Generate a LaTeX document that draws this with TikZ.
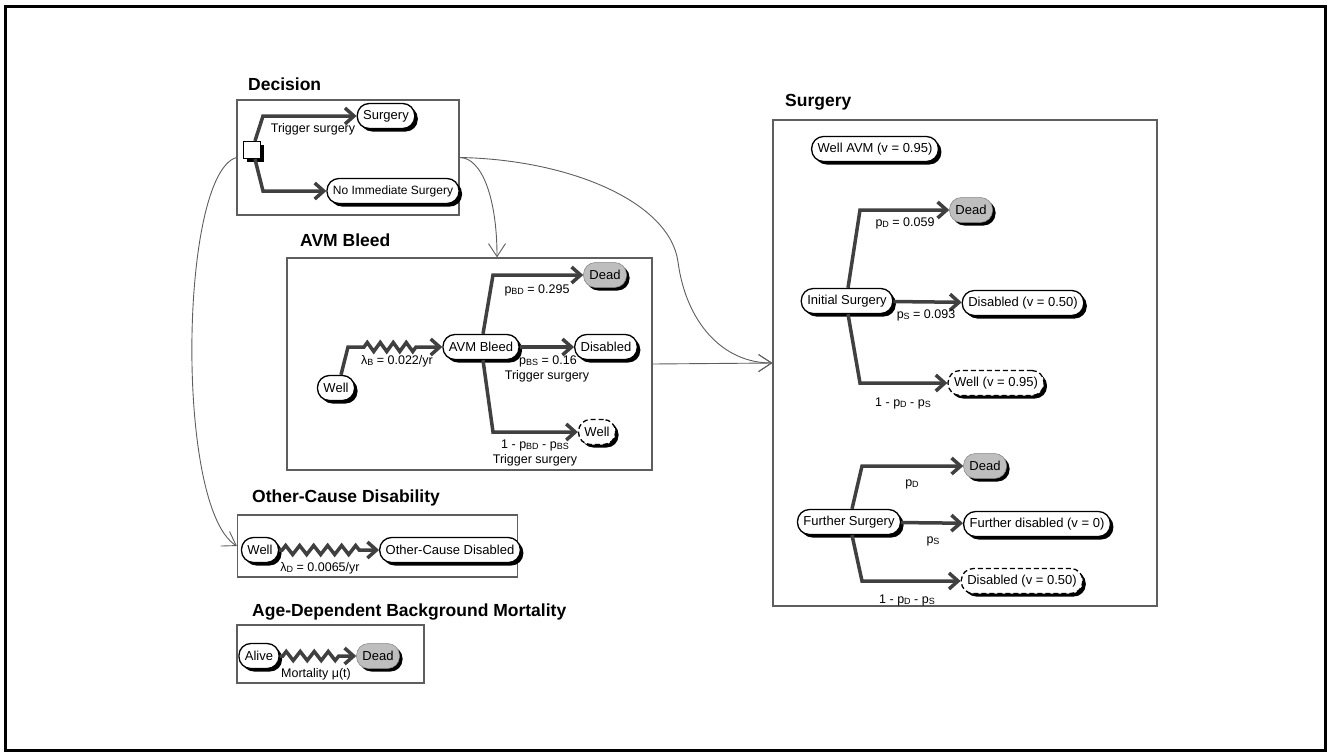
\documentclass[tikz,border=0pt]{standalone}
\usepackage{fontspec}
\setmainfont{Liberation Sans}
\usetikzlibrary{arrows.meta, shadows, decorations.pathmorphing}

\definecolor{branchgray}{HTML}{404040}
\definecolor{panelgray}{HTML}{5E5E5E}
\definecolor{deadfill}{HTML}{BEBEBE}
\newcommand{\lowsc}[1]{\raisebox{-1.5pt}{\fontsize{9}{9}\selectfont #1}}

\begin{document}
\begin{tikzpicture}[x=1pt, y=-1pt,
    state/.style={draw=black, line width=1.3pt, fill=white, rounded corners=12pt,
        minimum height=25pt, inner xsep=6pt, inner ysep=2pt,
        font=\fontsize{13}{15}\selectfont,
        drop shadow={shadow xshift=3pt, shadow yshift=-3pt, fill=black, opacity=1}},
    deadstate/.style={state, draw=gray, line width=0.5pt, fill=deadfill},
    tunnel/.style={state, dash pattern=on 5pt off 3pt},
    decsq/.style={draw=black, line width=1.2pt, fill=white, minimum size=17pt, inner sep=0pt,
        drop shadow={shadow xshift=3pt, shadow yshift=-3pt, fill=black, opacity=1}},
    panel/.style={draw=panelgray, line width=1.2pt, inner sep=0pt},
    title/.style={anchor=west, inner sep=0pt, font=\fontsize{17.5}{20}\selectfont\bfseries},
    lbl/.style={inner sep=1pt, font=\fontsize{12.5}{14}\selectfont},
    branch/.style={draw=branchgray, line width=3.5pt, -{Straight Barb[length=9pt,width=16pt]}},
    jump/.style={branch, decorate, decoration={zigzag, segment length=14pt, amplitude=4.5pt,
        pre length=3pt, post length=16pt}},
    link/.style={draw=panelgray, line width=0.9pt, -{Straight Barb[length=13pt,width=17pt]}}]

    \useasboundingbox (0,0) rectangle (1329,755);
    \draw[line width=3pt] (5.5,6.5) rectangle (1325.5,750.5);

    % Decision
    \node[title] (tdec) at (248,84) {Decision};
    \node[panel, minimum width=222pt, minimum height=115pt] (decbox) at (348,157.5) {};
    \node[decsq] (dec) at (252,150) {};
    \node[state] (surg1) at (386,116) {Surgery};
    \node[state, font=\fontsize{12}{14}\selectfont] (noimm) at (393,191) {No Immediate Surgery};
    \draw[branch] ([xshift=3pt]dec.north) -- ([xshift=11pt]dec.north |- surg1) -- (surg1);
    \draw[branch] ([xshift=3pt]dec.south) -- ([xshift=11pt]dec.south |- noimm) -- (noimm);
    \node[lbl] (ltrig) at (313,129) {Trigger surgery};

    % AVM Bleed
    \node[title] (tbleed) at (300,240) {AVM Bleed};
    \node[panel, minimum width=365pt, minimum height=212pt] (bleedbox) at (469.5,364) {};
    \node[state] (wellA) at (336,388) {Well};
    \node[state] (avm) at (481,347) {AVM Bleed};
    \node[deadstate] (deadA) at (605,275) {Dead};
    \node[state] (disA) at (606,347) {Disabled};
    \node[tunnel] (wellB) at (597,432) {Well};
    \coordinate (cA) at (348,347);
    \draw[branch] ([xshift=5pt]wellA.north) -- (cA)
        decorate[decoration={zigzag, segment length=13pt, amplitude=4.5pt,
            pre length=16pt, post length=20pt}] {-- (avm)};
    \draw[branch] ([xshift=2pt]avm.north) -- ([xshift=12pt]avm.north |- deadA) -- (deadA);
    \draw[branch] (avm) -- (disA);
    \draw[branch] ([xshift=2pt]avm.south) -- ([xshift=12pt]avm.south |- wellB) -- (wellB);
    \node[lbl] (lrateB) at (397,361) {λ\lowsc{B} = 0.022/yr};
    \node[lbl] (lpbd) at (537,290) {p\lowsc{BD} = 0.295};
    \node[lbl] (lpbs) at (548,361) {p\lowsc{BS} = 0.16};
    \node[lbl] (ltrigA) at (547,376) {Trigger surgery};
    \node[lbl] (lrest) at (535,445) {1 - p\lowsc{BD} - p\lowsc{BS}};
    \node[lbl] (ltrigB) at (535,460) {Trigger surgery};

    % Other-Cause Disability
    \node[title] (tother) at (252,498) {Other-Cause Disability};
    \node[panel, minimum width=280pt, minimum height=62pt] (otherbox) at (377.5,546) {};
    \node[state] (wellO) at (260,550) {Well};
    \node[state] (ocd) at (450,550) {Other-Cause Disabled};
    \draw[jump] (wellO) -- (ocd);
    \node[lbl] (lrateD) at (320,568) {λ\lowsc{D} = 0.0065/yr};

    % Age-Dependent Background Mortality
    \node[title] (tage) at (252,612) {Age-Dependent Background Mortality};
    \node[panel, minimum width=187pt, minimum height=58pt] (agebox) at (330.5,654) {};
    \node[state] (alive) at (259,656) {Alive};
    \node[deadstate] (deadM) at (378,656) {Dead};
    \draw[jump] (alive) -- (deadM);
    \node[lbl] (lmort) at (316,674) {Mortality μ(t)};

    % Surgery
    \node[title] (tsurg) at (785,102) {Surgery};
    \node[panel, minimum width=384pt, minimum height=486pt] (surgbox) at (965,363) {};
    \node[state] (wellavm) at (875,149) {Well AVM (v = 0.95)};
    \node[state] (initS) at (847,301) {Initial Surgery};
    \node[deadstate] (deadS) at (971,210) {Dead};
    \node[state] (disS) at (1023,303) {Disabled (v = 0.50)};
    \node[tunnel] (wellS) at (996,383) {Well (v = 0.95)};
    \draw[branch] ([xshift=1pt]initS.north) -- ([xshift=13pt]initS.north |- deadS) -- (deadS);
    \draw[branch] (initS) -- (disS);
    \draw[branch] ([xshift=1pt]initS.south) -- ([xshift=13pt]initS.south |- wellS) -- (wellS);
    \node[lbl] (lpd) at (905,223) {p\lowsc{D} = 0.059};
    \node[lbl] (lps) at (926,315) {p\lowsc{S} = 0.093};
    \node[lbl] (lrestS) at (903,403) {1 - p\lowsc{D} - p\lowsc{S}};

    \node[state] (furS) at (849,522) {Further Surgery};
    \node[deadstate] (deadF) at (985,466) {Dead};
    \node[state] (furdis) at (1037,524) {Further disabled (v = 0)};
    \node[tunnel] (disF) at (1022,581) {Disabled (v = 0.50)};
    \draw[branch] ([xshift=3pt]furS.north) -- ([xshift=13pt]furS.north |- deadF) -- (deadF);
    \draw[branch] (furS) -- (furdis);
    \draw[branch] ([xshift=3pt]furS.south) -- ([xshift=13pt]furS.south |- disF) -- (disF);
    \node[lbl] (lpdF) at (912,484) {p\lowsc{D}};
    \node[lbl] (lpsF) at (933,541) {p\lowsc{S}};
    \node[lbl] (lrestF) at (907,600) {1 - p\lowsc{D} - p\lowsc{S}};

    % links between panels
    \coordinate (bend) at (678,262);
    \draw[link] (decbox.west) .. controls +(-57,17) and +(-62,-38) .. (otherbox.west);
    \draw[link] (decbox.east) .. controls +(22,0) and +(0,-60) .. ([xshift=27.5pt]bleedbox.north);
    \draw[link] (decbox.east) .. controls +(110,2) and +(-8,-60) .. (bend)
        .. controls +(8,60) and +(-50,0) .. (surgbox.west);
    \draw[link] (bleedbox.east) -- (surgbox.west);
\end{tikzpicture}
\end{document}
